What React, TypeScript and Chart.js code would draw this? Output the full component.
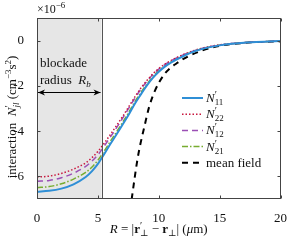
import React, { useEffect, useRef } from "react";
import { Chart, registerables } from "chart.js";
Chart.register(...registerables);

const R = [0, 1, 2, 3, 4, 4.5, 5, 5.5, 6, 6.5, 7, 7.5, 8, 8.5, 9, 9.5, 10, 10.5, 11, 12, 13, 14, 15, 16, 17, 18, 19, 20];
const N11 = [-6.68, -6.64, -6.54, -6.35, -6.03, -5.78, -5.45, -5.03, -4.59, -4.17, -3.74, -3.3, -2.82, -2.4, -2.0, -1.66, -1.38, -1.15, -0.97, -0.69, -0.46, -0.31, -0.21, -0.14, -0.09, -0.06, -0.04, -0.02];
const N22 = [-6.03, -5.99, -5.87, -5.68, -5.4, -5.18, -4.9, -4.55, -4.17, -3.78, -3.38, -2.95, -2.52, -2.12, -1.78, -1.48, -1.24, -1.04, -0.88, -0.62, -0.42, -0.28, -0.19, -0.13, -0.09, -0.06, -0.04, -0.02];
const N12 = [-6.22, -6.18, -6.06, -5.86, -5.56, -5.33, -5.05, -4.68, -4.28, -3.88, -3.46, -3.02, -2.58, -2.17, -1.82, -1.51, -1.26, -1.06, -0.9, -0.63, -0.43, -0.29, -0.2, -0.13, -0.09, -0.06, -0.04, -0.02];
const N21 = [-6.5, -6.45, -6.33, -6.12, -5.82, -5.6, -5.29, -4.9, -4.47, -4.06, -3.64, -3.2, -2.74, -2.32, -1.94, -1.6, -1.33, -1.12, -0.94, -0.67, -0.45, -0.3, -0.2, -0.14, -0.09, -0.06, -0.04, -0.02];
const meanR = [7.65, 7.78, 8.0, 8.25, 8.5, 8.8, 9.2, 9.7, 10.5, 11.5, 12.4, 13.5, 15, 17, 20];
const meanField = [-7.5, -7.0, -6.15, -5.25, -4.55, -3.85, -2.95, -2.2, -1.46, -0.99, -0.7, -0.45, -0.23, -0.1, -0.03];

const xTicks = [0, 5, 10, 15, 20];
const yTicks = [-6, -4, -2, 0];
const blockadeRadius = 5.3;
const arrowY = -2.25;

const legendSubs = ["11", "22", "12", "21"];

const SERIF = "'Liberation Serif', 'DejaVu Serif', serif";

type Run = { t: string; size?: number; style?: string; dy?: number; noAdv?: boolean };

function drawRuns(ctx: CanvasRenderingContext2D, runs: Run[], x: number, y: number, align: "left" | "center") {
  const font = (r: Run) => `${r.style || ""} ${r.size || 13}px ${SERIF}`;
  let total = 0;
  for (const r of runs) {
    ctx.font = font(r);
    if (!r.noAdv) total += ctx.measureText(r.t).width;
  }
  let cx = align === "center" ? x - total / 2 : x;
  ctx.textBaseline = "alphabetic";
  ctx.textAlign = "left";
  for (const r of runs) {
    ctx.font = font(r);
    ctx.fillText(r.t, cx, y + (r.dy || 0));
    if (!r.noAdv) cx += ctx.measureText(r.t).width;
  }
}

const mk = (xs: number[], ys: number[]) => xs.map((x, i) => ({ x, y: ys[i] }));

export default function App() {
  const ref = useRef<HTMLCanvasElement>(null);
  useEffect(() => {
    document.body.style.margin = "0";
    const canvas = ref.current!;
    const decor = {
      id: "decor",
      beforeDatasetsDraw(chart: any) {
        const { ctx, chartArea: a, scales } = chart;
        const xs = scales.x;
        ctx.save();
        ctx.fillStyle = "#e6e6e6";
        const xr = xs.getPixelForValue(blockadeRadius);
        ctx.fillRect(a.left, a.top, xr - a.left, a.bottom - a.top);
        ctx.restore();
      },
      afterDatasetsDraw(chart: any) {
        const { ctx, chartArea: a, scales } = chart;
        const xs = scales.x, ys = scales.y;
        ctx.save();
        const xr = Math.round(xs.getPixelForValue(blockadeRadius)) + 0.5;
        ctx.strokeStyle = "#555";
        ctx.lineWidth = 1;
        ctx.setLineDash([]);
        ctx.beginPath();
        ctx.moveTo(xr, a.top);
        ctx.lineTo(xr, a.bottom);
        ctx.stroke();
        const L = Math.round(a.left) + 0.5, Rr = Math.round(a.right) - 0.5;
        const T = Math.round(a.top) + 0.5, B = Math.round(a.bottom) - 0.5;
        ctx.strokeStyle = "#444";
        ctx.strokeRect(L, T, Rr - L, B - T);
        ctx.beginPath();
        for (const v of xTicks) {
          const p = Math.round(xs.getPixelForValue(v)) + 0.5;
          ctx.moveTo(p, B); ctx.lineTo(p, B - 3);
          ctx.moveTo(p, T); ctx.lineTo(p, T + 3);
        }
        for (const v of yTicks) {
          const p = Math.round(ys.getPixelForValue(v)) + 0.5;
          ctx.moveTo(L, p); ctx.lineTo(L + 3, p);
          ctx.moveTo(Rr, p); ctx.lineTo(Rr - 3, p);
        }
        ctx.stroke();
        const ay = Math.round(ys.getPixelForValue(arrowY)) + 0.5;
        const x0 = a.left + 1, x1 = xs.getPixelForValue(blockadeRadius) - 1;
        ctx.strokeStyle = "#000";
        ctx.fillStyle = "#000";
        ctx.beginPath();
        ctx.moveTo(x0, ay); ctx.lineTo(x1, ay);
        ctx.stroke();
        ctx.beginPath();
        ctx.moveTo(x0, ay); ctx.lineTo(x0 + 7, ay - 3); ctx.lineTo(x0 + 5, ay); ctx.lineTo(x0 + 7, ay + 3); ctx.closePath();
        ctx.moveTo(x1, ay); ctx.lineTo(x1 - 7, ay - 3); ctx.lineTo(x1 - 5, ay); ctx.lineTo(x1 - 7, ay + 3); ctx.closePath();
        ctx.fill();
        ctx.fillStyle = "#111";
        drawRuns(ctx, [{ t: "blockade" }], a.left + 3, 67, "left");
        drawRuns(ctx, [{ t: "radius  " }, { t: "R", style: "italic" }, { t: "b", style: "italic", size: 9, dy: 3 }], a.left + 3, 84, "left");
        drawRuns(ctx, [{ t: "×10", size: 12 }, { t: "−6", size: 9, dy: -5 }], a.left, 13, "left");
        const ds = chart.data.datasets;
        const lx0 = 182, lx1 = 203, ly0 = 98, dy = 16.2;
        ds.forEach((d: any, i: number) => {
          const y = ly0 + i * dy;
          ctx.save();
          ctx.strokeStyle = d.borderColor;
          ctx.lineWidth = d.borderWidth;
          ctx.setLineDash(d.borderDash || []);
          ctx.beginPath();
          ctx.moveTo(lx0, y); ctx.lineTo(lx1, y);
          ctx.stroke();
          ctx.restore();
          ctx.fillStyle = "#111";
          if (i < 4) {
            drawRuns(ctx, [
              { t: "N", style: "italic" },
              { t: "′", size: 10, dy: -4, noAdv: true },
              { t: legendSubs[i], size: 9, dy: 3 },
            ], lx1 + 3, y + 4, "left");
          } else {
            drawRuns(ctx, [{ t: "mean field" }], lx1 + 3, y + 4, "left");
          }
        });
        drawRuns(ctx, [
          { t: "R", style: "italic" },
          { t: " = |" },
          { t: "r", style: "bold" },
          { t: "′", size: 10, dy: -4, noAdv: true },
          { t: "⊥", size: 9, dy: 3 },
          { t: " − " },
          { t: "r", style: "bold" },
          { t: "⊥", size: 9, dy: 3 },
          { t: "| (" },
          { t: "μ", style: "italic" },
          { t: "m)" },
        ], (a.left + a.right) / 2, 233, "center");
        ctx.save();
        ctx.translate(16, 117);
        ctx.rotate(-Math.PI / 2);
        drawRuns(ctx, [
          { t: "interaction  " },
          { t: "N", style: "italic" },
          { t: "′", size: 10, dy: -4, noAdv: true },
          { t: "jl", style: "italic", size: 9, dy: 3 },
          { t: " (cm" },
          { t: "−3", size: 9, dy: -5 },
          { t: "s" },
          { t: "2", size: 9, dy: -5 },
          { t: ")" },
        ], 0, 0, "center");
        ctx.restore();
        ctx.restore();
      },
    };
    const chart = new Chart(canvas, {
      type: "line",
      data: {
        datasets: [
          { data: mk(R, N11), borderColor: "#2f8fd6", borderWidth: 2, borderDash: [] },
          { data: mk(R, N22), borderColor: "#c8173f", borderWidth: 1.5, borderDash: [1.5, 2] },
          { data: mk(R, N12), borderColor: "#9b4fb5", borderWidth: 1.5, borderDash: [6, 4] },
          { data: mk(R, N21), borderColor: "#77ac30", borderWidth: 1.5, borderDash: [6, 2, 1.5, 2] },
          { data: mk(meanR, meanField), borderColor: "#000000", borderWidth: 2, borderDash: [6, 5] },
        ].map((d) => ({ ...d, pointRadius: 0, fill: false, cubicInterpolationMode: "monotone" as const })),
      },
      options: {
        animation: false,
        responsive: false,
        events: [],
        layout: { padding: { top: 18, right: 8, left: 0, bottom: 0 } },
        plugins: { legend: { display: false }, tooltip: { enabled: false } },
        scales: {
          x: {
            type: "linear",
            min: 0,
            max: 20,
            afterBuildTicks: (s: any) => { s.ticks = xTicks.map((v) => ({ value: v })); },
            afterFit: (s: any) => { s.height = 41; },
            grid: { display: false },
            border: { display: false },
            ticks: { padding: 4, color: "#111", maxRotation: 0, font: { family: SERIF, size: 13 } },
          },
          y: {
            type: "linear",
            min: -7,
            max: 1,
            afterBuildTicks: (s: any) => { s.ticks = yTicks.map((v) => ({ value: v })); },
            afterFit: (s: any) => { s.width = 37; },
            grid: { display: false },
            border: { display: false },
            ticks: { padding: 5, color: "#111", font: { family: SERIF, size: 13 }, callback: (v: any) => String(v) },
          },
        },
      },
      plugins: [decor],
    });
    return () => chart.destroy();
  }, []);
  return <canvas ref={ref} width={291} height={240} style={{ display: "block" }} />;
}
